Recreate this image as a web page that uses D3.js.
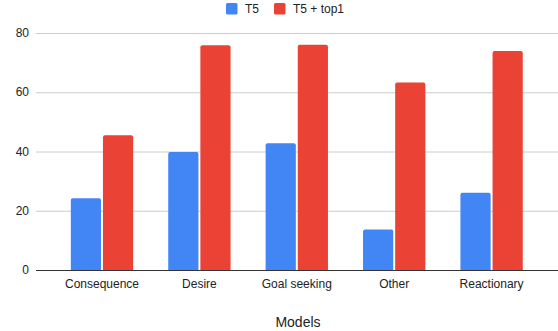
<!DOCTYPE html>
<html>
<head>
<meta charset="utf-8">
<script src="https://cdn.jsdelivr.net/npm/d3@7"></script>
<style>
  html, body { margin: 0; padding: 0; background: #fff; }
  svg { display: block; font-family: "Liberation Sans", Arial, sans-serif; }
</style>
</head>
<body>
<svg id="chart" width="558" height="331"></svg>
<script>
// Chart data
const categories = ["Consequence", "Desire", "Goal seeking", "Other", "Reactionary"];
const seriesNames = ["T5", "T5 + top1"];
const t5Values = [24.2, 39.8, 42.8, 13.7, 26.1];
const t5Top1Values = [45.5, 75.9, 76.0, 63.3, 73.9];
const yTicks = [0, 20, 40, 60, 80];
const xTitle = "Models";

const colors = ["#4285F4", "#EA4335"];
const svg = d3.select("#chart");

// Plot geometry
const gridLeft = 36, gridRight = 558;
const y = d3.scaleLinear().domain([0, 80]).range([270, 33]);
const x0 = d3.scaleBand().domain(categories).range([53.3, 540.3]).paddingInner(0.36).paddingOuter(0.18);
const x1 = d3.scaleBand().domain(seriesNames).range([0, x0.bandwidth()]).paddingInner(0.06);

// Gridlines
svg.append("g").selectAll("line").data(yTicks.filter(t => t !== 0)).join("line")
  .attr("x1", gridLeft).attr("x2", gridRight)
  .attr("y1", d => y(d) + 0.5).attr("y2", d => y(d) + 0.5)
  .attr("stroke", "#cccccc").attr("stroke-width", 1);

// Y tick labels
svg.append("g").selectAll("text").data(yTicks).join("text")
  .attr("x", 29).attr("y", d => y(d)).attr("dy", "0.35em")
  .attr("text-anchor", "end").attr("font-size", 12).attr("fill", "#222")
  .text(d => d);

// Bars with slightly rounded tops
function barPath(x, yTop, w, yBase, r) {
  r = Math.min(r, (yBase - yTop));
  return `M${x},${yBase}V${yTop + r}Q${x},${yTop} ${x + r},${yTop}H${x + w - r}Q${x + w},${yTop} ${x + w},${yTop + r}V${yBase}Z`;
}
const rows = categories.map((c, i) => ({ cat: c, vals: [t5Values[i], t5Top1Values[i]] }));
const groups = svg.append("g").selectAll("g").data(rows).join("g")
  .attr("transform", d => `translate(${x0(d.cat)},0)`);
groups.selectAll("path").data(d => d.vals.map((v, j) => ({ v, s: seriesNames[j], j }))).join("path")
  .attr("d", d => barPath(x1(d.s), y(d.v), x1.bandwidth(), y(0), 2))
  .attr("fill", d => colors[d.j]);

// Baseline
svg.append("line")
  .attr("x1", gridLeft).attr("x2", gridRight)
  .attr("y1", y(0) + 0.5).attr("y2", y(0) + 0.5)
  .attr("stroke", "#333").attr("stroke-width", 1);

// Category labels
svg.append("g").selectAll("text").data(categories).join("text")
  .attr("x", d => x0(d) + x0.bandwidth() / 2).attr("y", 288)
  .attr("text-anchor", "middle").attr("font-size", 12).attr("fill", "#222")
  .text(d => d);

// Axis title
svg.append("text")
  .attr("x", 298).attr("y", 327)
  .attr("text-anchor", "middle").attr("font-size", 14).attr("fill", "#222")
  .text(xTitle);

// Legend
const legendItems = [{ name: seriesNames[0], x: 226 }, { name: seriesNames[1], x: 274 }];
const lg = svg.append("g").selectAll("g").data(legendItems).join("g")
  .attr("transform", d => `translate(${d.x},3)`);
lg.append("rect").attr("width", 11.5).attr("height", 11.5).attr("rx", 1.5)
  .attr("fill", (d, i) => colors[i]);
lg.append("text").attr("x", 19).attr("y", 6).attr("dy", "0.35em")
  .attr("font-size", 12).attr("fill", "#222").text(d => d.name);
</script>
</body>
</html>
